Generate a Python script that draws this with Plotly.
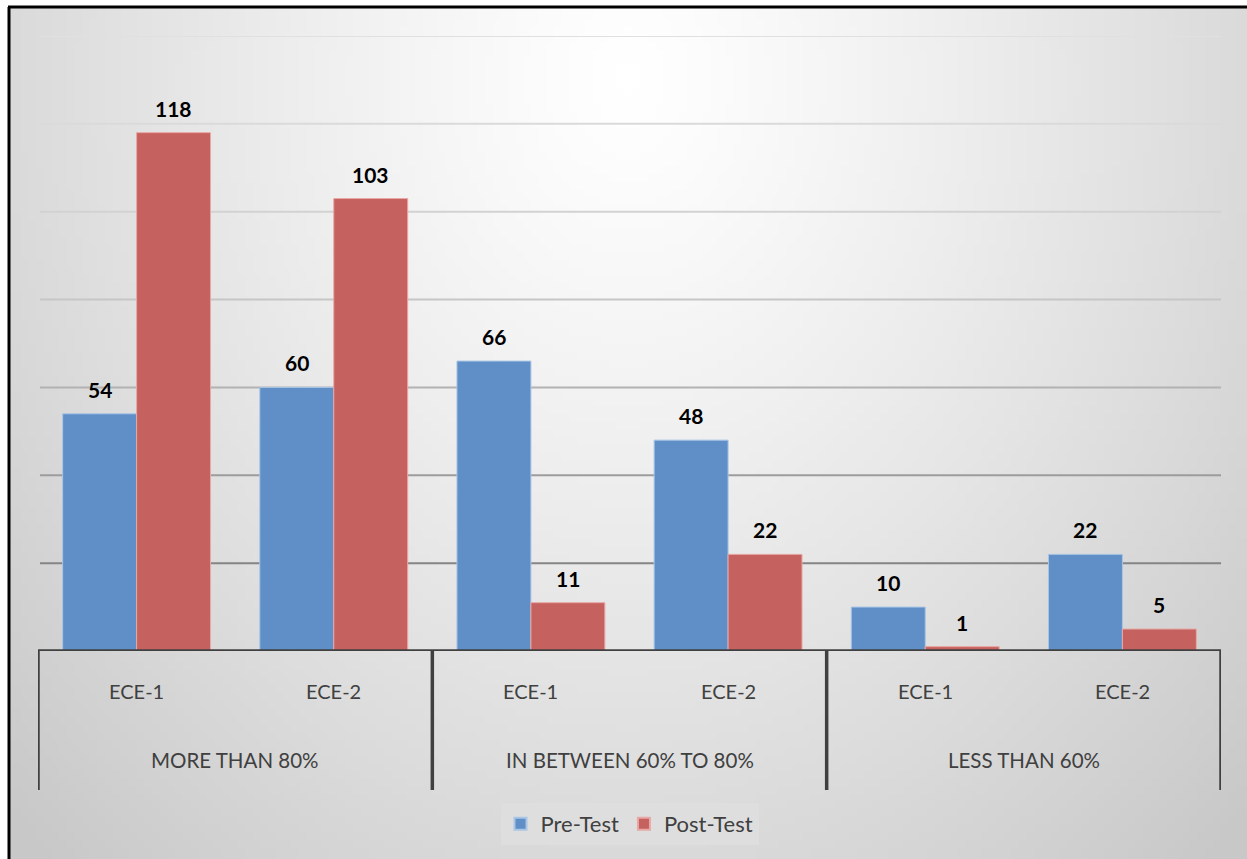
import base64
import struct
import zlib
import plotly.graph_objects as go

# ---------------- data ----------------
groups = ["MORE THAN 80%", "IN BETWEEN 60% TO 80%", "LESS THAN 60%"]
subcats = ["ECE-1", "ECE-2"]
pre_test = [54, 60, 66, 48, 10, 22]
post_test = [118, 103, 11, 22, 1, 5]
grid_values = [20, 40, 60, 80, 100, 120, 140]

# ---------------- styles ----------------
BLUE = "#5f8fc6"
RED = "#c5625f"
BLUE_EDGE = "#a9c5e6"
RED_EDGE = "#e8a8a6"
AXIS = "#404040"
FONT = "Lato"
grid_colors = ["#858585", "#9c9c9c", "#b2b2b2", "#c6c6c6", "#d2d2d2", "#dadada", "#e0e0e0"]

# category keys (unique) built from groups x subcats
cats = [f"{g}|{s}" for g in groups for s in subcats]


# ---------------- background gradient image (pure python PNG) ----------------
def make_png(w, h):
    rows = []
    for j in range(h):
        yy = j / (h - 1)
        row = bytearray()
        for i in range(w):
            xx = i / (w - 1)
            d = (((xx - 0.5) / 0.58) ** 2 + ((yy - 0.08) / 1.05) ** 2) ** 0.5
            v = 255 - 44 * d ** 1.2
            v = max(200, min(255, int(round(v))))
            row.append(v)
        rows.append(row)
    raw = b"".join(b"\x00" + bytes(r) for r in rows)

    def chunk(tag, data):
        return (struct.pack(">I", len(data)) + tag + data
                + struct.pack(">I", zlib.crc32(tag + data) & 0xFFFFFFFF))

    png = (b"\x89PNG\r\n\x1a\n"
           + chunk(b"IHDR", struct.pack(">IIBBBBB", w, h, 8, 0, 0, 0, 0))
           + chunk(b"IDAT", zlib.compress(raw, 9))
           + chunk(b"IEND", b""))
    return "data:image/png;base64," + base64.b64encode(png).decode()


bg_uri = make_png(160, 110)

W, H = 1247, 859
ML, MR, MT, MB = 38, 26, 36, 208
PW = W - ML - MR
PH = H - MT - MB


def px_to_paper_x(px):
    return (px - ML) / PW


def py_to_paper_y(py):
    return (H - MB - py) / PH


fig = go.Figure()
fig.add_trace(go.Bar(
    x=cats, y=pre_test, name="Pre-Test",
    marker=dict(color=BLUE, line=dict(color=BLUE_EDGE, width=1)),
))
fig.add_trace(go.Bar(
    x=cats, y=post_test, name="Post-Test",
    marker=dict(color=RED, line=dict(color=RED_EDGE, width=1)),
))

annotations = []
# value labels
bar_half = PW / 6 * 0.75 / 4
for series, shift in ((pre_test, -bar_half), (post_test, bar_half)):
    for c, v in zip(cats, series):
        annotations.append(dict(
            x=c, y=v, xref="x", yref="y", text=f"<b>{v}</b>", showarrow=False,
            xshift=shift, yshift=10, yanchor="bottom",
            font=dict(family=FONT, size=21, color="#000000"),
        ))
# sub-category labels
for c in cats:
    annotations.append(dict(
        x=c, y=py_to_paper_y(691), xref="x", yref="paper", text=c.split("|")[1],
        showarrow=False, yanchor="middle",
        font=dict(family=FONT, size=20, color=AXIS),
    ))
# group labels
for gi, g in enumerate(groups):
    annotations.append(dict(
        x=gi * 2 + 0.5, y=py_to_paper_y(760), xref="x", yref="paper", text=g,
        showarrow=False, yanchor="middle",
        font=dict(family=FONT, size=20.5, color=AXIS),
    ))

shapes = []
# gradient gridlines
for gv, gc in zip(grid_values, grid_colors):
    shapes.append(dict(type="line", xref="paper", yref="y",
                       x0=px_to_paper_x(40), x1=1, y0=gv, y1=gv,
                       line=dict(color=gc, width=2), layer="below"))
# axis line
shapes.append(dict(type="line", xref="x", yref="y", x0=-0.5, x1=len(cats) - 0.5,
                   y0=0, y1=0, line=dict(color=AXIS, width=3.5), layer="above"))
# group dividers
for b in range(len(groups) + 1):
    xb = b * 2 - 0.5
    shapes.append(dict(type="line", xref="x", yref="paper", x0=xb, x1=xb,
                       y0=0, y1=py_to_paper_y(790),
                       line=dict(color=AXIS, width=3.5), layer="above"))
# outer frame (left and top black lines)
shapes.append(dict(type="line", xref="paper", yref="paper",
                   x0=px_to_paper_x(9), x1=px_to_paper_x(9),
                   y0=py_to_paper_y(7), y1=py_to_paper_y(H + 5),
                   line=dict(color="#000000", width=3), layer="above"))
shapes.append(dict(type="line", xref="paper", yref="paper",
                   x0=px_to_paper_x(8), x1=px_to_paper_x(W + 5),
                   y0=py_to_paper_y(7), y1=py_to_paper_y(7),
                   line=dict(color="#000000", width=3), layer="above"))

fig.update_layout(
    width=W, height=H,
    margin=dict(l=ML, r=MR, t=MT, b=MB, pad=0),
    paper_bgcolor="#ffffff",
    plot_bgcolor="rgba(0,0,0,0)",
    barmode="group", bargap=0.25, bargroupgap=0,
    font=dict(family=FONT, color=AXIS),
    xaxis=dict(type="category", range=[-0.5, len(cats) - 0.5], showticklabels=False,
               showgrid=False, zeroline=False, showline=False, ticks=""),
    yaxis=dict(range=[0, 140], showticklabels=False, showgrid=False,
               zeroline=False, showline=False, ticks="", tickvals=grid_values),
    showlegend=True,
    legend=dict(orientation="h", x=0.5, xanchor="center",
                y=py_to_paper_y(803), yanchor="top",
                bgcolor="#dedede", font=dict(family=FONT, size=22, color=AXIS),
                itemsizing="constant"),
    annotations=annotations,
    shapes=shapes,
    images=[dict(source=bg_uri, xref="paper", yref="paper",
                 x=px_to_paper_x(9), y=py_to_paper_y(7),
                 sizex=px_to_paper_x(W) - px_to_paper_x(9),
                 sizey=py_to_paper_y(7) - py_to_paper_y(H),
                 xanchor="left", yanchor="top", sizing="stretch", layer="below")],
)

fig.write_html("out.html")
